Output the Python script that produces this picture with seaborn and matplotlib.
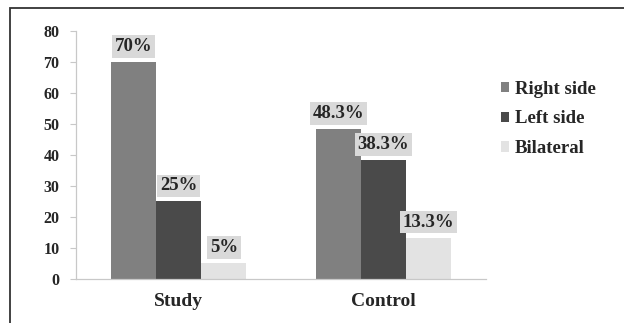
import matplotlib
matplotlib.use("Agg")
import matplotlib.pyplot as plt
import seaborn as sns
import pandas as pd
from matplotlib.patches import Rectangle

groups = ["Study", "Control"]
sides = ["Right side", "Left side", "Bilateral"]
study_values = [70, 25, 5]
control_values = [48.3, 38.3, 13.3]
value_labels = {"Study": ["70%", "25%", "5%"], "Control": ["48.3%", "38.3%", "13.3%"]}
colors = ["#808080", "#4a4a4a", "#e3e3e3"]
yticks = [0, 10, 20, 30, 40, 50, 60, 70, 80]

rows = []
for g, vals in zip(groups, [study_values, control_values]):
    for s, v, lab in zip(sides, vals, value_labels[g]):
        rows.append({"group": g, "side": s, "value": v, "label": lab})
df = pd.DataFrame(rows)

sns.set_style("white")
plt.rcParams["font.family"] = ["Liberation Serif", "DejaVu Serif"]

fig = plt.figure(figsize=(6.24, 3.23), dpi=100)
ax = fig.add_axes([76 / 624, 1 - 278.7 / 323, 410 / 624, (278.7 - 31) / 323])

sns.barplot(data=df, x="group", y="value", hue="side", order=groups,
            hue_order=sides, palette=colors, width=0.663, gap=0,
            saturation=1, ax=ax, legend=True, linewidth=0)

ax.set_ylim(0, 80)
ax.set_xlim(-0.5, 1.5)
ax.set_yticks(yticks)
ax.set_yticklabels([str(t) for t in yticks], fontsize=11.5, fontweight="bold")
ax.set_xlabel("")
ax.set_ylabel("")
ax.set_xticks([-0.5, 0.5, 1.5], minor=True)
ax.set_xticks([0, 1])
ax.set_xticklabels(groups, fontsize=14, fontweight="bold")
ax.tick_params(axis="x", which="major", length=0, pad=10)
ax.tick_params(axis="x", which="minor", length=4, color="#c8c8c8", width=0.8, direction="out")
ax.tick_params(axis="y", length=4, color="#c8c8c8", width=0.8, direction="out", pad=8)
ax.tick_params(axis="y", left=True)
for sp in ["top", "right"]:
    ax.spines[sp].set_visible(False)
for sp in ["left", "bottom"]:
    ax.spines[sp].set_color("#c8c8c8")
    ax.spines[sp].set_linewidth(0.9)

# value labels above each bar with a grey box
for container, side in zip(ax.containers, sides):
    sub = df[df["side"] == side].set_index("group")
    for bar, g in zip(container, groups):
        x = bar.get_x() + bar.get_width() / 2
        y = bar.get_height()
        ax.annotate(sub.loc[g, "label"], (x, y), xytext=(0, 5),
                    textcoords="offset points", ha="center", va="bottom",
                    fontsize=13.5, fontweight="bold",
                    bbox=dict(boxstyle="square,pad=0.15", fc="#d9d9d9", ec="none"))

leg = ax.legend(loc="center left", bbox_to_anchor=(1.0, 0.645), frameon=False,
                handlelength=0.45, handleheight=0.45, handletextpad=0.3,
                labelspacing=0.68, borderpad=0, borderaxespad=0.8,
                prop={"size": 13.5, "weight": "bold"})

# outer frame
fig.patches.append(Rectangle((10 / 624, -0.1), 1.2, 1 - 8 / 323 + 0.1,
                             transform=fig.transFigure, fill=False,
                             ec="#333333", lw=1.3))

fig.savefig("out.png", dpi=100)
